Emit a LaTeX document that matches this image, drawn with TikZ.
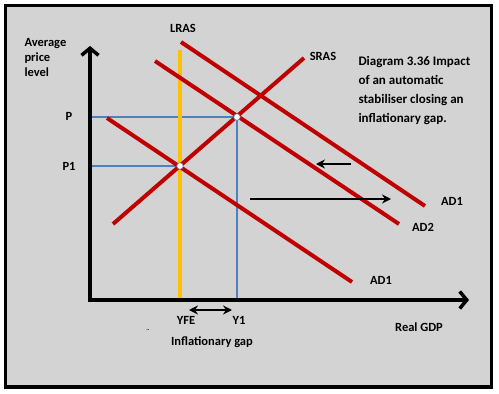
\documentclass[tikz,border=0pt]{standalone}
\usepackage{fontspec}
\setmainfont{Carlito}
\usepackage{tikz}
\usetikzlibrary{arrows.meta}
\definecolor{panelgray}{RGB}{211,211,211}
\definecolor{curvered}{RGB}{192,0,0}
\definecolor{lrasyellow}{RGB}{255,192,0}
\definecolor{guideblue}{RGB}{79,129,189}

\begin{document}
\begin{tikzpicture}[x=1pt, y=-1pt, font=\bfseries\fontsize{12.5}{15}\selectfont,
    curve/.style={curvered, line width=4pt},
    guide/.style={guideblue, line width=2.3pt},
    axis/.style={line width=3.5pt, -{Straight Barb[length=7pt,width=17pt,line width=3.5pt]}},
    shiftarrow/.style={line width=2.6pt, -{Stealth[length=9pt,width=9pt]}},
    eqpoint/.style={circle, fill=white, draw=guideblue!50!gray, line width=0.6pt, inner sep=0pt, minimum size=6.5pt}]
      \useasboundingbox (0,0) rectangle (499,394);
      \draw [fill=panelgray, line width=3.5pt] (5.5,5.5) rectangle (491.5,387);
      \coordinate (O) at (90,300);
      \coordinate (ytip) at (90,46);
      \coordinate (xtip) at (469,300);
      \coordinate (E1) at (237,117);
      \coordinate (E0) at (180,166);
      \coordinate (P) at (92,117);
      \coordinate (P1) at (92,166);
      \coordinate (Y1) at (237,300);
      \draw [guide] (P) -- (E1) -- (Y1);
      \draw [guide] (P1) -- (E0);
      \draw [lrasyellow, line width=3.5pt] (180,50) -- (180,300);
      \draw [curve] (113,224) -- (304,58);
      \draw [curve] (107,118) -- (352,282);
      \draw [curve] (155,61) -- (399,224);
      \draw [curve] (181,42) -- (425,206);
      \draw [axis] (O) -- (ytip);
      \draw [axis] ([xshift=-1.75pt]O) -- (xtip);
      \node [eqpoint] (e1) at (E1) {};
      \node [eqpoint] (e0) at (E0) {};
      \node (lras) at (183,28) {LRAS};
      \node (sras) at (323,56) {SRAS};
      \node (ad1a) at (452,201) {AD1};
      \node (ad2) at (423,227) {AD2};
      \node (ad1b) at (381,280) {AD1};
      \node (plab) at (69,116) {P};
      \node (p1lab) at (69,166) {P1};
      \node (yfe) at (186,320) {YFE};
      \node (y1) at (239,320) {Y1};
      \node (gap) at (212,342) {Inflationary gap};
      \node (gdp) at (419,327) {Real GDP};
      \node [font=\bfseries\fontsize{6}{7}\selectfont] (dots) at (148,330) {..};
      \node [align=left, anchor=north west] (ylab) at (21,35) {Average\\price\\level};
      \node [align=left, anchor=north west, font=\bfseries\fontsize{13}{19}\selectfont] (title) at (355,53)
        {Diagram 3.36 Impact\\of an automatic\\stabiliser closing an\\inflationary gap.};
      \coordinate (lft0) at (351,164);
      \coordinate (lft1) at (316,164);
      \coordinate (rgt0) at (250,199);
      \coordinate (rgt1) at (391,199);
      \draw [shiftarrow] (lft0) -- (lft1);
      \draw [shiftarrow] (rgt0) -- (rgt1);
      \draw [shiftarrow, {Stealth[length=9pt,width=9pt]}-{Stealth[length=9pt,width=9pt]}] (189,310) -- (232,310);
    \end{tikzpicture}
\end{document}
